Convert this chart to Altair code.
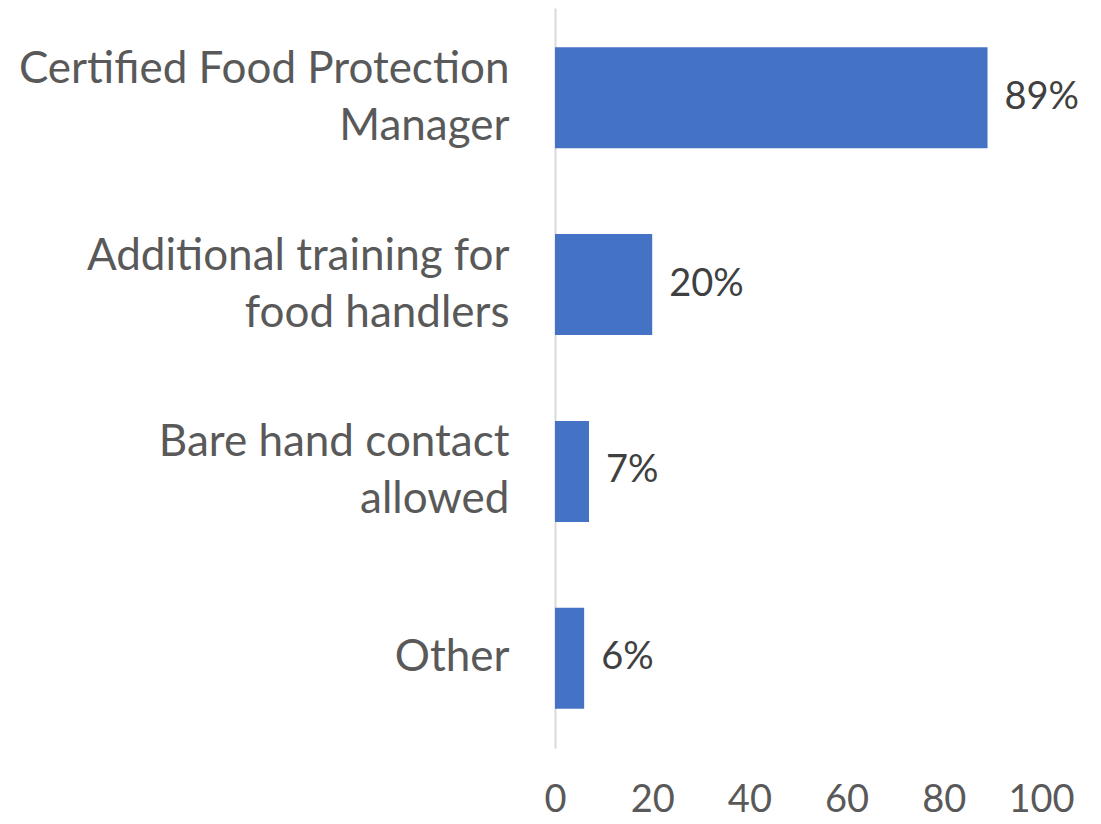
import altair as alt
import pandas as pd

categories = ["Certified Food Protection|Manager", "Additional training for|food handlers", "Bare hand contact|allowed", "Other"]
values = [89, 20, 7, 6]
labels = ["89%", "20%", "7%", "6%"]
x_ticks = [0, 20, 40, 60, 80, 100]

df = pd.DataFrame({"cat": categories, "val": values, "lab": labels})

FONT = "Lato"

y_enc = alt.Y("cat:N", sort=categories, title=None,
              scale=alt.Scale(paddingInner=0.46, paddingOuter=0.21),
              axis=alt.Axis(labelExpr="split(datum.label, '|')", labelFont=FONT, labelFontSize=44,
                            labelColor="#595959", labelLineHeight=57, labelPadding=46,
                            labelAlign="right", labelBaseline="middle",
                            labelOffset={"condition": {"test": "indexof(datum.value, '|') >= 0", "value": -28},
                                         "value": 0},
                            ticks=False, domain=True, domainColor="#d9d9d9", domainWidth=2,
                            grid=False, labelLimit=600))
x_enc = alt.X("val:Q", title=None, scale=alt.Scale(domain=[0, 100], nice=False),
              axis=alt.Axis(values=x_ticks, labelFont=FONT, labelFontSize=38, labelColor="#595959",
                            labelPadding=33, labelFlush=False, labelOverlap=False,
                            ticks=False, domain=False, grid=False))

bars = alt.Chart(df).mark_bar(color="#4472C4").encode(x=x_enc, y=y_enc)
text = alt.Chart(df).mark_text(align="left", baseline="middle", dx=17, font=FONT, fontSize=38,
                               color="#404040").encode(x="val:Q", y=alt.Y("cat:N", sort=categories), text="lab:N")

chart = (bars + text).properties(
    width=486, height=740,
    autosize=alt.AutoSizeParams(type="none"),
    padding={"left": 547, "top": 0, "right": 50, "bottom": 70},
).configure_view(stroke=None)

chart.save("out.html", embed_options={"renderer": "svg", "actions": False})
